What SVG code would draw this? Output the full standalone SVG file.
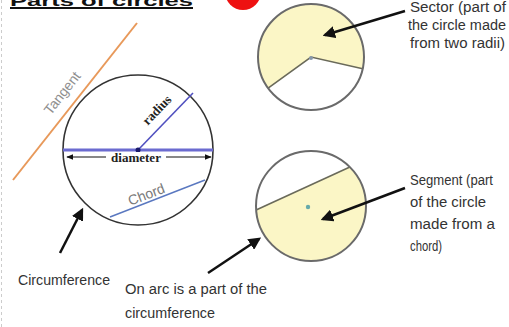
<svg xmlns="http://www.w3.org/2000/svg" width="509" height="327" viewBox="0 0 509 327">
<defs>
<marker id="ah" viewBox="0 0 10 10" refX="8" refY="5" markerWidth="5" markerHeight="5" orient="auto-start-reverse">
<path d="M0,0 L10,5 L0,10 Z" fill="#111"/>
</marker>
<marker id="sh" viewBox="0 0 10 10" refX="9" refY="5" markerWidth="6" markerHeight="6" orient="auto-start-reverse">
<path d="M0,1 L10,5 L0,9 Z" fill="#111"/>
</marker>
<style>
.hand{font-family:"Liberation Sans Narrow","Liberation Sans",sans-serif;font-size:14px;fill:#333}
.ser{font-family:"Liberation Serif",serif;font-weight:bold;font-size:13px;fill:#222}
.circ{stroke:#6a6a6a;stroke-width:2;fill:none}
.yel{fill:#fbf6c6}
.arr{stroke:#111;stroke-width:2.5;fill:none;marker-end:url(#ah)}
</style>
</defs>
<rect width="509" height="327" fill="#fff"/>
<line x1="1.5" y1="0" x2="1.5" y2="327" stroke="#ccc" stroke-width="1" stroke-dasharray="3 3"/>
<g id="title">
<text x="10" y="5.5" font-family="Liberation Sans,sans-serif" font-weight="bold" font-size="14" fill="#111" textLength="183" lengthAdjust="spacingAndGlyphs">Parts of circles</text>
<line x1="10" y1="8" x2="193" y2="8" stroke="#111" stroke-width="2"/>
<circle cx="243" cy="-8" r="18" fill="#ee1111"/>
</g>
<g id="main-circle">
<line x1="137" y1="23" x2="13" y2="180" stroke="#e8995a" stroke-width="2"/>
<text class="hand" transform="translate(66,96) rotate(-52)" text-anchor="middle" style="fill:#909090" font-size="13">Tangent</text>
<circle cx="138" cy="150" r="75" fill="#fff" stroke="#333" stroke-width="1.6"/>
<line x1="63" y1="150" x2="213" y2="150" stroke="#6b6bd0" stroke-width="3"/>
<line x1="138" y1="150" x2="193" y2="93" stroke="#5050c0" stroke-width="1.6"/>
<circle cx="138" cy="150" r="2.5" fill="#1a1a6a"/>
<text class="ser" transform="translate(160,113) rotate(-46)" text-anchor="middle">radius</text>
<line x1="67" y1="157" x2="211" y2="157" stroke="#111" stroke-width="1.2" marker-start="url(#sh)" marker-end="url(#sh)"/>
<rect x="106" y="152" width="60" height="11" fill="#fff"/>
<text class="ser" x="136" y="162" text-anchor="middle">diameter</text>
<line x1="110" y1="217" x2="205" y2="180" stroke="#5a78c0" stroke-width="1.4"/>
<text class="hand" transform="translate(148,199) rotate(-21)" text-anchor="middle" style="fill:#7a7a7a" font-size="13">Chord</text>
<text class="hand" x="18" y="285" textLength="92" lengthAdjust="spacingAndGlyphs">Circumference</text>
</g>
<g id="sector">
<path class="yel" d="M311,57 L362.7,68.7 A53,53 0 1 0 268.1,88.2 Z"/>
<path d="M268.1,88.2 L311,57 L362.7,68.7" stroke="#6a6a5a" stroke-width="1.6" fill="none"/>
<circle class="circ" cx="311" cy="57" r="53"/>
<circle cx="311" cy="58" r="2" fill="#8899aa"/>
<text class="hand" x="410" y="12" textLength="96" lengthAdjust="spacingAndGlyphs">Sector (part of</text>
<text class="hand" x="408" y="30" textLength="98" lengthAdjust="spacingAndGlyphs">the circle made</text>
<text class="hand" x="410" y="48" textLength="95" lengthAdjust="spacingAndGlyphs">from two radii)</text>
</g>
<g id="segment">
<path class="yel" d="M256.1,210 L349.9,167.1 A55,55 0 1 1 256.1,210 Z"/>
<line x1="256.1" y1="210" x2="349.9" y2="167.1" stroke="#6a6a5a" stroke-width="1.6"/>
<circle class="circ" cx="311" cy="206" r="55"/>
<circle cx="308" cy="207" r="2.2" fill="#66aaaa"/>
<text class="hand" x="410" y="185" textLength="83" lengthAdjust="spacingAndGlyphs">Segment (part</text>
<text class="hand" x="410" y="207" textLength="76" lengthAdjust="spacingAndGlyphs">of the circle</text>
<text class="hand" x="410" y="229" textLength="85" lengthAdjust="spacingAndGlyphs">made from a</text>
<text class="hand" x="410" y="251" textLength="32" lengthAdjust="spacingAndGlyphs">chord)</text>
</g>
<g id="arc-label">
<text class="hand" x="125" y="294" textLength="142" lengthAdjust="spacingAndGlyphs">On arc is a part of the</text>
<text class="hand" x="125" y="318" textLength="90" lengthAdjust="spacingAndGlyphs">circumference</text>
</g>
<g id="connectors">
<line class="arr" x1="60" y1="253" x2="82" y2="210"/>
<line class="arr" x1="208" y1="273" x2="259" y2="239"/>
<line class="arr" x1="405" y1="11" x2="325" y2="35"/>
<line class="arr" x1="405" y1="188" x2="323" y2="219"/>
</g>
</svg>
